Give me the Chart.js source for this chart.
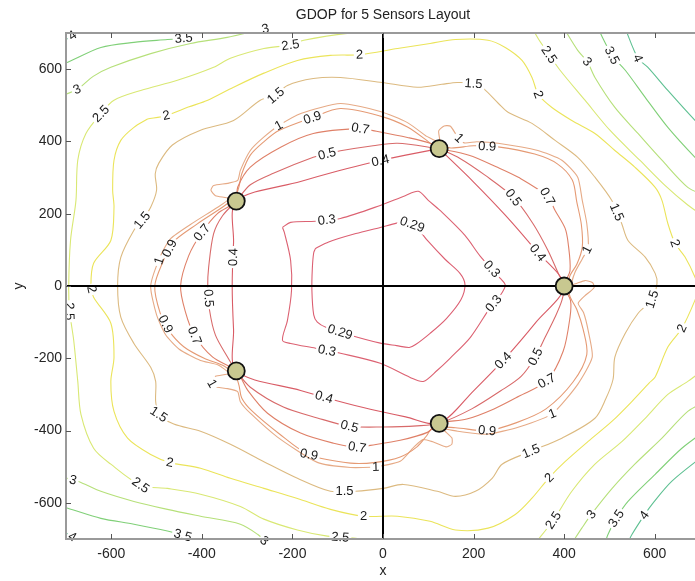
<!DOCTYPE html>
<html>
<head>
<meta charset="utf-8">
<script src="https://cdn.jsdelivr.net/npm/chart.js@4.4.0/dist/chart.umd.min.js"></script>
<style>
    html, body { margin: 0; padding: 0; background: #fff; overflow: hidden; }
    #wrap { width: 720px; height: 581px; }
</style>
</head>
<body>
<div id="wrap"><canvas id="gdopChart" width="720" height="581"></canvas></div>
<script>
// GDOP for 5 sensors - contour levels and colours
const levels = ['0.29', '0.3', '0.4', '0.5', '0.7', '0.9', '1', '1.5', '2', '2.5', '3', '3.5', '4'];
const levelColors = ['#dc5f72', '#dc6272', '#d95c66', '#d86a6a', '#df8068', '#e59a74', '#e6aa86',
                     '#dcba80', '#ebe45a', '#d9e874', '#b6e07a', '#80d078', '#5ec092'];

// sensor layout
const sensorX = [400, 124, -324, -324, 124];
const sensorY = [0, 380, 235, -235, -380];

// axes
const axisRange = [-700, 700];
const xTicks = [-600, -400, -200, 0, 200, 400, 600];
const yTicks = [-600, -400, -200, 0, 200, 400, 600];

// contour lines (x, y)
const gdop029 = [[[-149,104],[-120,122],[-60,145],[-6,162],[30,174],[48,178],[70,168],[98,126],[137,74],[170,35],[181,4],[172,-38],[140,-90],[104,-131],[72,-162],[58,-170],[30,-165],[-6,-158],[-72,-136],[-125,-115],[-145,-100],[-153,-80],[-157,-12],[-156,50],[-153,92],[-149,104]]];

const gdop03 = [[[-222,162],[-204,176],[-149,179],[-94,187],[-6,223],[49,250],[78,262],[100,237],[126,209],[181,140],[215,82],[259,21],[270,2],[259,-26],[237,-59],[193,-142],[148,-200],[120,-233],[89,-264],[60,-253],[-6,-214],[-94,-186],[-149,-172],[-204,-159],[-222,-150],[-211,-95],[-202,-12],[-204,71],[-218,149],[-222,162]]];

const gdop04 = [[[124,380],[50,362],[-28,341],[-100,318],[-182,289],[-324,235],[-330,120],[-333,0],[-330,-120],[-324,-235],[-182,-289],[-100,-318],[-28,-341],[50,-362],[124,-380],[200,-290],[272,-197],[338,-100],[400,0],[337,99],[270,196],[199,289],[124,380]]];

const gdop05 = [[[124,380],[32,395],[-22,388],[-94,374],[-123,366],[-154,356],[-242,312],[-293,280],[-324,235],[-354,195],[-374,145],[-385,52],[-387,0],[-383,-67],[-370,-136],[-343,-197],[-324,-235],[-293,-280],[-220,-335],[-145,-365],[-74,-388],[0,-390],[75,-387],[124,-380],[196,-340],[260,-290],[305,-250],[336,-197],[358,-142],[380,-86],[395,-40],[400,0],[387,35],[364,99],[331,173],[288,245],[226,306],[170,353],[124,380]]];

const gdop07 = [[[124,380],[104,395],[54,411],[-22,430],[-50,436],[-154,422],[-226,384],[-293,329],[-321,273],[-324,235],[-365,201],[-400,148],[-429,84],[-447,0],[-436,-73],[-416,-137],[-376,-197],[-324,-235],[-299,-288],[-255,-352],[-182,-407],[-109,-435],[-57,-446],[-28,-441],[38,-427],[98,-405],[124,-380],[185,-368],[245,-340],[300,-305],[362,-262],[398,-180],[413,-86],[414,-40],[400,0],[413,43],[409,117],[402,160],[380,209],[363,248],[300,300],[250,330],[190,362],[124,380]]];

const gdop09 = [[[108,392],[54,440],[-6,470],[-94,491],[-156,466],[-230,430],[-264,398],[-293,362],[-312,310],[-318,275],[-326,248],[-350,222],[-410,172],[-465,120],[-485,70],[-504,0],[-492,-75],[-472,-125],[-440,-168],[-395,-200],[-350,-222],[-326,-248],[-318,-275],[-312,-310],[-290,-345],[-230,-408],[-164,-466],[-72,-490],[-16,-488],[38,-473],[75,-445],[96,-415],[110,-392],[160,-392],[230,-400],[295,-378],[360,-340],[420,-265],[450,-190],[442,-120],[428,-65],[412,-25],[412,25],[428,60],[440,107],[438,170],[428,232],[418,293],[385,338],[335,365],[254,385],[200,388],[150,382],[108,392]]];

const gdop1 = [[[95,415],[54,452],[-6,483],[-94,505],[-180,478],[-230,444],[-264,411],[-293,375],[-315,320],[-321,292],[-343,284],[-374,278],[-380,265],[-370,250],[-340,242],[-365,218],[-418,176],[-469,131],[-491,84],[-513,0],[-500,-80],[-480,-135],[-450,-175],[-403,-206],[-365,-218],[-340,-242],[-370,-250],[-380,-265],[-374,-278],[-343,-284],[-321,-292],[-315,-320],[-293,-352],[-233,-418],[-145,-488],[-72,-502],[-16,-500],[38,-485],[67,-447],[88,-425],[110,-431],[139,-445],[152,-438],[152,-420],[133,-396],[165,-402],[230,-410],[300,-390],[374,-353],[430,-272],[462,-197],[453,-123],[443,-74],[431,-48],[445,-28],[466,-5],[463,9],[446,15],[417,4],[424,38],[440,75],[453,107],[450,173],[440,237],[430,301],[395,348],[342,375],[254,395],[207,399],[179,396],[164,414],[149,442],[135,443],[123,429],[125,398],[95,415]]];

const gdop15 = [[[-237,527],[-211,555],[-154,574],[-94,577],[-2,563],[76,550],[130,558],[164,563],[200,560],[222,546],[255,505],[277,480],[329,450],[380,403],[430,356],[468,301],[505,237],[527,173],[541,126],[579,80],[601,35],[605,7],[594,-37],[563,-76],[535,-131],[512,-197],[508,-258],[492,-312],[468,-366],[395,-421],[327,-457],[263,-493],[241,-532],[204,-568],[160,-582],[120,-568],[45,-549],[0,-560],[-61,-568],[-116,-568],[-189,-532],[-263,-486],[-337,-438],[-403,-402],[-462,-382],[-495,-355],[-502,-319],[-502,-264],[-513,-225],[-550,-159],[-579,-86],[-586,0],[-579,79],[-550,154],[-530,185],[-513,218],[-500,265],[-503,310],[-495,340],[-465,390],[-403,431],[-330,458],[-271,514],[-237,527]]];

const gdop2 = [[[-520,462],[-478,472],[-430,495],[-387,514],[-330,550],[-263,589],[-189,624],[-116,638],[-52,640],[32,657],[104,671],[160,682],[232,680],[270,660],[307,624],[329,577],[343,530],[373,494],[417,458],[468,422],[512,375],[556,329],[601,273],[616,237],[629,173],[645,118],[667,80],[689,24],[696,-8],[689,-39],[660,-117],[629,-169],[601,-252],[588,-268],[550,-319],[506,-374],[453,-430],[402,-486],[367,-530],[329,-587],[292,-632],[232,-670],[160,-675],[104,-651],[32,-637],[-43,-637],[-116,-618],[-189,-588],[-263,-560],[-337,-532],[-403,-504],[-471,-488],[-513,-466],[-564,-421],[-594,-347],[-601,-264],[-594,-197],[-601,-103],[-639,-31],[-645,0],[-639,63],[-601,126],[-594,218],[-597,265],[-594,348],[-579,403],[-550,439],[-520,462]]];

const gdop25 = [
    [[10,712],[-6,702],[-79,699],[-175,680],[-204,667],[-263,657],[-337,630],[-374,605],[-454,569],[-535,541],[-594,514],[-623,477],[-656,422],[-674,348],[-678,237],[-690,126],[-694,0],[-692,-70],[-683,-150],[-674,-264],[-667,-355],[-639,-449],[-601,-493],[-535,-551],[-476,-560],[-403,-576],[-315,-610],[-263,-645],[-189,-675],[-123,-692],[-60,-698],[-10,-712]],
    [[330,712],[345,680],[367,640],[391,597],[446,514],[501,431],[567,348],[622,279],[673,224],[712,190]],
    [[712,-228],[673,-264],[629,-300],[579,-366],[528,-430],[468,-493],[417,-568],[376,-648],[336,-712]]
];

const gdop3 = [
    [[-712,525],[-674,545],[-640,580],[-601,605],[-513,643],[-425,671],[-344,688],[-260,712]],
    [[-712,-528],[-674,-540],[-623,-568],[-550,-596],[-476,-618],[-403,-637],[-315,-659],[-277,-687],[-255,-712]],
    [[400,712],[430,652],[451,621],[468,577],[512,494],[563,422],[616,348],[673,273],[712,250]],
    [[712,-320],[673,-347],[616,-421],[556,-493],[506,-560],[460,-632],[439,-670],[417,-712]]
];

const gdop35 = [
    [[-712,612],[-696,619],[-623,660],[-550,674],[-476,682],[-440,686],[-400,712]],
    [[-712,-610],[-696,-615],[-623,-643],[-550,-659],[-476,-678],[-442,-690],[-400,-712]],
    [[475,712],[506,638],[535,597],[579,522],[629,439],[689,356],[712,330]],
    [[712,-400],[660,-449],[601,-521],[541,-596],[515,-643],[497,-687],[490,-712]]
];

const gdop4 = [
    [[-712,672],[-690,690],[-665,712]],
    [[-712,-676],[-688,-692],[-660,-712]],
    [[535,712],[563,630],[585,605],[629,541],[689,458],[712,430]],
    [[712,-465],[638,-540],[594,-604],[577,-634],[550,-687],[540,-712]]
];

const contours = {
    '0.29': gdop029, '0.3': gdop03, '0.4': gdop04, '0.5': gdop05, '0.7': gdop07,
    '0.9': gdop09, '1': gdop1, '1.5': gdop15, '2': gdop2, '2.5': gdop25,
    '3': gdop3, '3.5': gdop35, '4': gdop4
};

// inline contour labels (level, x, y)
const contourLabels = [
    ['4',-683,688], ['3.5',-440,682], ['3',-674,539], ['2.5',-623,477], ['2',-478,469],
    ['3',-248,692], ['2.5',-204,662], ['2',-52,638], ['1.5',-237,527], ['1',-230,444],
    ['0.9',-156,466], ['0.7',-50,436], ['0.5',-123,362], ['0.4',-4,338], ['0.3',-124,178],
    ['0.29',60,155], ['1.5',200,560], ['2.5',367,640], ['3',451,621], ['3.5',506,638],
    ['4',563,630], ['2',343,530], ['1',165,405], ['0.9',230,386], ['0.5',288,245],
    ['0.7',363,248], ['1.5',519,206], ['2',645,118], ['0.4',338,88], ['0.3',232,38],
    ['1',451,100], ['0.3',241,-45], ['1.5',594,-37], ['2',660,-117], ['0.4',265,-206],
    ['0.5',334,-194], ['0.7',363,-266], ['0.9',230,-400], ['1',374,-353], ['1.5',327,-457],
    ['2',367,-530], ['2.5',376,-648], ['3',460,-632], ['3.5',515,-643], ['4',577,-634],
    ['0.29',-98,-140], ['0.3',-124,-180], ['0.4',-131,-312], ['0.5',-74,-388], ['0.7',-57,-446],
    ['0.9',-164,-470], ['1',-16,-500], ['1.5',-85,-570], ['2',-43,-637], ['2.5',-94,-693],
    ['3',-255,-695], ['1.5',-495,-355], ['2',-471,-488], ['2.5',-535,-551], ['3',-685,-540],
    ['3.5',-442,-690], ['4',-685,-692], ['1',-380,-272], ['1.5',-530,180], ['0.9',-465,100],
    ['1',-495,70], ['0.7',-400,148], ['0.4',-330,80], ['0.5',-387,-34], ['0.7',-416,-137],
    ['0.9',-476,-103], ['2',-645,-10], ['2.5',-692,-70]
];

const FONT = '"Liberation Sans", Arial, Helvetica, sans-serif';

// build datasets
const datasets = [];
levels.forEach((lv, i) => {
    contours[lv].forEach(piece => {
        datasets.push({
            level: lv,
            data: piece.map(p => ({ x: p[0], y: p[1] })),
            showLine: true,
            borderColor: levelColors[i],
            borderWidth: 1.1,
            pointRadius: 0,
            tension: lv === '1' ? 0.2 : 0.3,
            order: 10
        });
    });
});
// black x / y axis lines
datasets.push({
    isAxis: true,
    data: [{ x: axisRange[0], y: 0 }, { x: axisRange[1], y: 0 }],
    showLine: true, borderColor: '#000', borderWidth: 2, pointRadius: 0, order: 2
});
datasets.push({
    isAxis: true,
    data: [{ x: 0, y: axisRange[0] }, { x: 0, y: axisRange[1] }],
    showLine: true, borderColor: '#000', borderWidth: 2, pointRadius: 0, order: 2
});
// sensors
datasets.push({
    data: sensorX.map((x, i) => ({ x: x, y: sensorY[i] })),
    showLine: false,
    pointRadius: 8.5,
    pointBackgroundColor: '#c8c890',
    pointBorderColor: '#111',
    pointBorderWidth: 1.8,
    order: 0
});

// snap each label onto its contour and find the text angle
function placeLabels(chart) {
    const xs = chart.scales.x, ys = chart.scales.y, ctx = chart.ctx;
    ctx.save();
    ctx.font = '13px ' + FONT;
    const out = contourLabels.map(([lv, lx, ly]) => {
        const px = xs.getPixelForValue(lx), py = ys.getPixelForValue(ly);
        let best = null;
        contours[lv].forEach(piece => {
            for (let k = 0; k < piece.length - 1; k++) {
                const ax = xs.getPixelForValue(piece[k][0]), ay = ys.getPixelForValue(piece[k][1]);
                const bx = xs.getPixelForValue(piece[k + 1][0]), by = ys.getPixelForValue(piece[k + 1][1]);
                const dx = bx - ax, dy = by - ay;
                const len2 = dx * dx + dy * dy || 1;
                let t = ((px - ax) * dx + (py - ay) * dy) / len2;
                t = Math.max(0, Math.min(1, t));
                const qx = ax + t * dx, qy = ay + t * dy;
                const d = (qx - px) ** 2 + (qy - py) ** 2;
                if (!best || d < best.d) best = { d: d, x: qx, y: qy, ang: Math.atan2(dy, dx) };
            }
        });
        let ang = best.ang;
        if (ang > Math.PI / 2) ang -= Math.PI;
        if (ang < -Math.PI / 2) ang += Math.PI;
        return { text: lv, x: best.x, y: best.y, ang: ang, w: ctx.measureText(lv).width };
    });
    ctx.restore();
    return out;
}

const contourPlugin = {
    id: 'contourPlugin',
    beforeDatasetsDraw(chart) {
        chart.$labels = placeLabels(chart);
        chart.$labelsDone = false;
    },
    beforeDatasetDraw(chart, args) {
        const ds = chart.data.datasets[args.index];
        const ctx = chart.ctx;
        if (ds.level) {
            // cut gaps in the line where its labels sit
            ctx.save();
            ctx.beginPath();
            ctx.rect(0, 0, chart.width, chart.height);
            chart.$labels.filter(l => l.text === ds.level).forEach(l => {
                const hw = l.w / 2 + 2, hh = 6;
                const c = Math.cos(l.ang), s = Math.sin(l.ang);
                const pts = [[-hw, -hh], [hw, -hh], [hw, hh], [-hw, hh]]
                    .map(([u, v]) => [l.x + u * c - v * s, l.y + u * s + v * c]);
                ctx.moveTo(pts[0][0], pts[0][1]);
                pts.slice(1).forEach(p => ctx.lineTo(p[0], p[1]));
                ctx.closePath();
            });
            ctx.clip('evenodd');
        } else if (ds.isAxis && !chart.$labelsDone) {
            chart.$labelsDone = true;
            ctx.save();
            ctx.font = '13px ' + FONT;
            ctx.fillStyle = '#1a1a1a';
            ctx.textAlign = 'center';
            ctx.textBaseline = 'middle';
            chart.$labels.forEach(l => {
                ctx.save();
                ctx.translate(l.x, l.y);
                ctx.rotate(l.ang);
                ctx.fillText(l.text, 0, 0.5);
                ctx.restore();
            });
            ctx.restore();
        }
    },
    afterDatasetDraw(chart, args) {
        const ds = chart.data.datasets[args.index];
        if (ds.level) chart.ctx.restore();
    },
    afterDraw(chart) {
        const ctx = chart.ctx, a = chart.chartArea;
        const xs = chart.scales.x, ys = chart.scales.y;
        ctx.save();
        // axes box and inward ticks
        ctx.strokeStyle = '#9a9a9a';
        ctx.lineWidth = 2;
        ctx.strokeRect(a.left, a.top, a.right - a.left, a.bottom - a.top);
        ctx.strokeStyle = '#555';
        ctx.lineWidth = 1;
        ctx.beginPath();
        xTicks.forEach(v => {
            const p = Math.round(xs.getPixelForValue(v)) + 0.5;
            ctx.moveTo(p, a.bottom); ctx.lineTo(p, a.bottom - 5);
            ctx.moveTo(p, a.top); ctx.lineTo(p, a.top + 5);
        });
        yTicks.forEach(v => {
            const p = Math.round(ys.getPixelForValue(v)) + 0.5;
            ctx.moveTo(a.left, p); ctx.lineTo(a.left + 5, p);
            ctx.moveTo(a.right, p); ctx.lineTo(a.right - 5, p);
        });
        ctx.stroke();
        // titles
        ctx.fillStyle = '#222';
        ctx.font = '14px ' + FONT;
        ctx.textAlign = 'center';
        ctx.textBaseline = 'middle';
        ctx.fillText('GDOP for 5 Sensors Layout', (a.left + a.right) / 2, 15);
        ctx.fillText('x', xs.getPixelForValue(0), 571);
        ctx.translate(19, ys.getPixelForValue(0));
        ctx.rotate(-Math.PI / 2);
        ctx.fillText('y', 0, 0);
        ctx.restore();
    }
};

const ctx = document.getElementById('gdopChart').getContext('2d');
new Chart(ctx, {
    type: 'scatter',
    data: { datasets: datasets },
    options: {
        responsive: false,
        animation: false,
        events: [],
        layout: { padding: { top: 33, right: 20, bottom: 0, left: 0 } },
        scales: {
            x: {
                type: 'linear',
                min: axisRange[0], max: axisRange[1],
                afterBuildTicks: s => { s.ticks = xTicks.map(v => ({ value: v })); },
                afterFit: s => { s.height = 42; },
                grid: { display: false, drawTicks: false },
                border: { display: false },
                ticks: { padding: 7, color: '#262626', font: { family: FONT, size: 14 } }
            },
            y: {
                type: 'linear',
                min: axisRange[0], max: axisRange[1],
                afterBuildTicks: s => { s.ticks = yTicks.map(v => ({ value: v })); },
                afterFit: s => { s.width = 66; },
                grid: { display: false, drawTicks: false },
                border: { display: false },
                ticks: { padding: 4, color: '#262626', font: { family: FONT, size: 14 } }
            }
        },
        plugins: {
            legend: { display: false },
            tooltip: { enabled: false }
        }
    },
    plugins: [contourPlugin]
});
</script>
</body>
</html>
